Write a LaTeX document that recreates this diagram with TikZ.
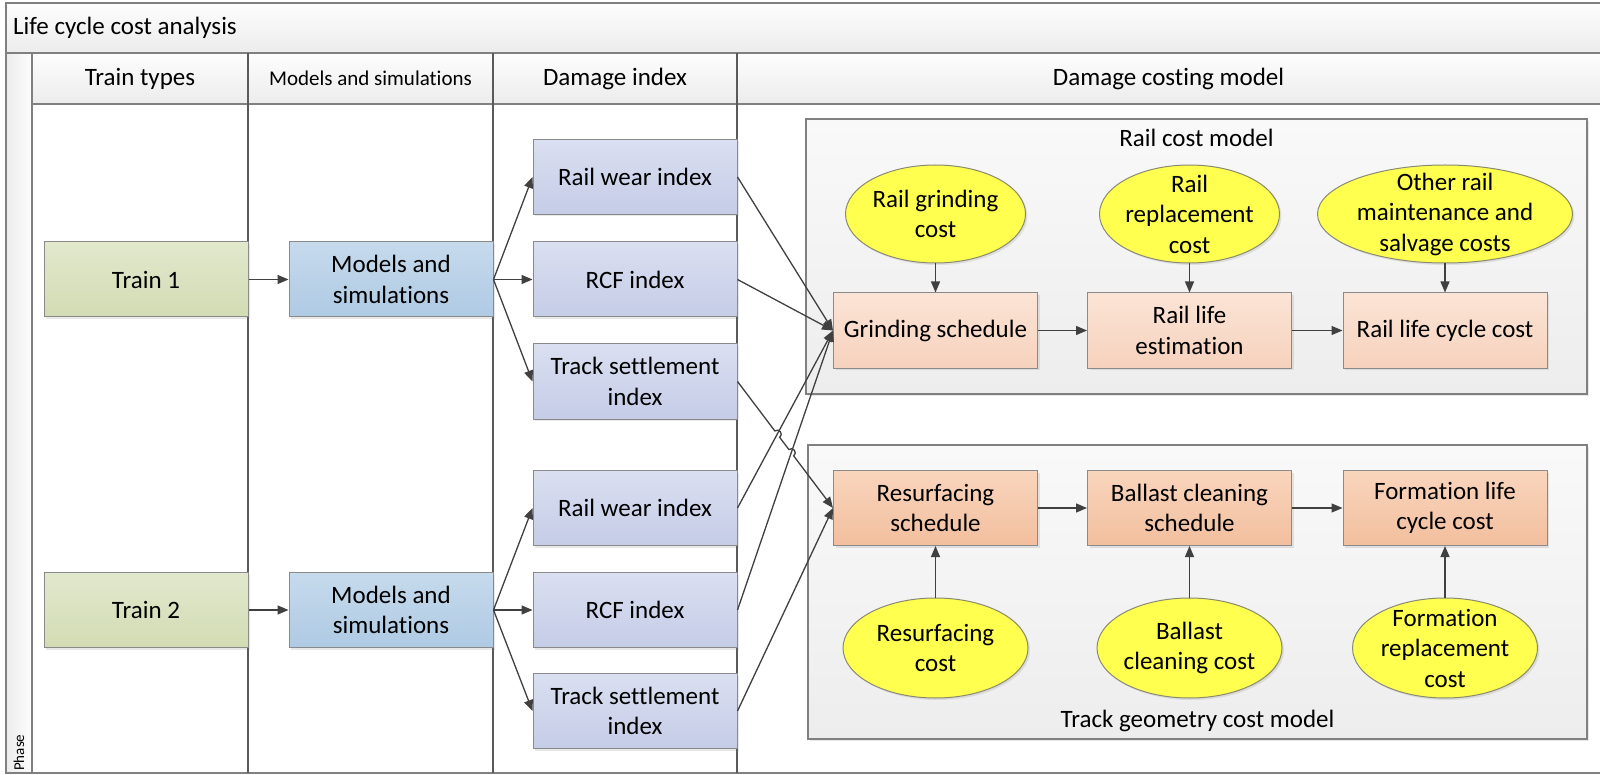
\documentclass[tikz,border=0pt]{standalone}
\usepackage{fontspec}
\setmainfont{Carlito}[Ligatures={NoCommon}]
\usetikzlibrary{arrows.meta,shapes.geometric,calc,intersections,shadows}
\definecolor{linec}{HTML}{404040}
\definecolor{framec}{HTML}{808080}
\definecolor{colc}{HTML}{5A5A5A}
\definecolor{boxborder}{HTML}{8A8A8A}
\definecolor{bandtop}{HTML}{FDFDFD}
\definecolor{bandbot}{HTML}{ECECEC}
\definecolor{traintop}{HTML}{E1E8CD}
\definecolor{trainbot}{HTML}{D2DCB3}
\definecolor{modtop}{HTML}{C6DAEC}
\definecolor{modbot}{HTML}{AECAE3}
\definecolor{dmgtop}{HTML}{DADFF1}
\definecolor{dmgbot}{HTML}{C5CCE6}
\definecolor{railtop}{HTML}{FBE4D6}
\definecolor{railbot}{HTML}{F6D2BD}
\definecolor{tracktop}{HTML}{F9D5BD}
\definecolor{trackbot}{HTML}{F2BF9E}
\definecolor{ellfill}{HTML}{FFFF4F}
\definecolor{ellborder}{HTML}{8A8A70}
\definecolor{conttop}{HTML}{F9F9F9}
\definecolor{contbot}{HTML}{EDEDED}
\begin{document}
\begin{tikzpicture}[x=1pt,y=-1pt,
  every node/.style={font=\fontsize{25}{30.5}\selectfont, text=black},
  shad/.style={drop shadow={shadow xshift=2pt,shadow yshift=-2pt,opacity=0.18}},
  basebox/.style={rectangle, draw=boxborder, line width=1pt, minimum width=204pt,
    minimum height=75pt, inner sep=0pt, align=center, shad},
  trainbox/.style={basebox, top color=traintop, bottom color=trainbot},
  modbox/.style={basebox, top color=modtop, bottom color=modbot},
  dmgbox/.style={basebox, top color=dmgtop, bottom color=dmgbot},
  railbox/.style={basebox, top color=railtop, bottom color=railbot},
  trackbox/.style={basebox, top color=tracktop, bottom color=trackbot},
  ell/.style={ellipse, draw=ellborder, line width=1pt, fill=ellfill, inner sep=0pt, shad},
  etext/.style={align=center, inner sep=0pt},
  container/.style={rectangle, draw=framec, line width=1.5pt, top color=conttop,
    bottom color=contbot, inner sep=0pt, shad},
  frameline/.style={draw=framec, line width=2pt},
  colline/.style={draw=colc, line width=1.5pt},
  arr/.style={draw=linec, line width=1.3pt, -{Triangle[length=11pt,width=9pt]}}
]
\useasboundingbox (0,0) rectangle (1600,775);
\fill[white] (0,0) rectangle (1600,775);
% bands
\shade[top color=bandtop,bottom color=bandbot] (6,3) rectangle (1600,53);
\shade[top color=bandtop,bottom color=bandbot] (32,53) rectangle (1600,104);
\shade[left color=bandbot,right color=bandtop] (6,53) rectangle (32,773);
\draw[frameline] (1600,3) -- (6,3) -- (6,773) -- (1600,773);
\draw[frameline] (6,53) -- (1600,53);
\draw[frameline] (32,104) -- (1600,104);
\draw[frameline] (32,53) -- (32,773);
\draw[colline] (248,53) -- (248,773);
\draw[colline] (493,53) -- (493,773);
\draw[colline] (737,53) -- (737,773);
% titles
\node[anchor=west, inner sep=0pt] (title) at (13,28) {Life cycle cost analysis};
\node[rotate=90, anchor=west, inner sep=0pt, font=\fontsize{15}{17}\selectfont] (phase) at (19,771) {Phase};
\node (hTrain) at (140,78.5) {Train types};
\node[font=\fontsize{21}{25}\selectfont] (hModels) at (370.5,78.5) {Models and simulations};
\node (hDamage) at (615,78.5) {Damage index};
\node (hCost) at (1168.5,78.5) {Damage costing model};
% containers
\node[container, minimum width=781pt, minimum height=275pt] (railmodel) at (1196.5,256.5) {};
\node[container, minimum width=779pt, minimum height=294pt] (trackmodel) at (1197.5,592) {};
\node (railmodellabel) at (1196.5,138) {Rail cost model};
\node (trackmodellabel) at (1197.5,721) {Track geometry cost model};
% train / models
\node[trainbox] (t1) at (146,279.5) {Train 1};
\node[trainbox] (t2) at (146,610) {Train 2};
\node[modbox] (m1) at (391,279.5) {Models and\\simulations};
\node[modbox] (m2) at (391,610) {Models and\\simulations};
% damage indices
\node[dmgbox] (rw1) at (635,177) {Rail wear index};
\node[dmgbox] (rcf1) at (635,279.5) {RCF index};
\node[dmgbox] (ts1) at (635,381.5) {Track settlement\\index};
\node[dmgbox] (rw2) at (635,508) {Rail wear index};
\node[dmgbox] (rcf2) at (635,610) {RCF index};
\node[dmgbox] (ts2) at (635,711) {Track settlement\\index};
% rail cost model
\node[railbox] (gr) at (935.5,330.5) {Grinding schedule};
\node[railbox] (rle) at (1189.5,330.5) {Rail life\\estimation};
\node[railbox] (rlcc) at (1445,330.5) {Rail life cycle cost};
\node[ell, minimum width=180pt, minimum height=98pt] (e1) at (935.5,214) {};
\node[etext] (e1t) at (e1.center) {Rail grinding\\cost};
\node[ell, minimum width=180pt, minimum height=98pt] (e2) at (1189.5,214) {};
\node[etext] (e2t) at (e2.center) {Rail\\replacement\\cost};
\node[ell, minimum width=255pt, minimum height=98pt] (e3) at (1445,214) {};
\node[etext] (e3t) at (e3.center) {Other rail\\maintenance and\\salvage costs};
% track geometry cost model
\node[trackbox] (rs) at (935.5,508) {Resurfacing\\schedule};
\node[trackbox] (bcs) at (1189.5,508) {Ballast cleaning\\schedule};
\node[trackbox] (flcc) at (1445,508) {Formation life\\cycle cost};
\node[ell, minimum width=185pt, minimum height=100pt] (e4) at (935.5,648) {};
\node[etext] (e4t) at (e4.center) {Resurfacing\\cost};
\node[ell, minimum width=185pt, minimum height=100pt] (e5) at (1189.5,648) {};
\node[etext] (e5t) at (e5.center) {Ballast\\cleaning cost};
\node[ell, minimum width=185pt, minimum height=100pt] (e6) at (1445,648) {};
\node[etext] (e6t) at (e6.center) {Formation\\replacement\\cost};
% connectors
\draw[arr] (t1.east) -- (m1.west);
\draw[arr] (t2.east) -- (m2.west);
\draw[arr] (m1.east) -- (rw1.west);
\draw[arr] (m1.east) -- (rcf1.west);
\draw[arr] (m1.east) -- (ts1.west);
\draw[arr] (m2.east) -- (rw2.west);
\draw[arr] (m2.east) -- (rcf2.west);
\draw[arr] (m2.east) -- (ts2.west);
\draw[arr] (rw1.east) -- (gr.west);
\draw[arr] (rcf1.east) -- (gr.west);
\draw[arr] (rw2.east) -- (gr.west);
\draw[arr] (rcf2.east) -- (gr.west);
\draw[arr] (ts2.east) -- (rs.west);
\path[name path=pA] (rw2.east) -- (gr.west);
\path[name path=pB] (rcf2.east) -- (gr.west);
\path[name path=pC] (ts1.east) -- (rs.west);
\path[name intersections={of=pA and pC, by={xa}}];
\path[name intersections={of=pB and pC, by={xb}}];
\coordinate (a1) at ($(xa)!4pt!(ts1.east)$);
\coordinate (b1) at ($(xa)!4pt!(rs.west)$);
\coordinate (a2) at ($(xb)!4pt!(ts1.east)$);
\coordinate (b2) at ($(xb)!4pt!(rs.west)$);
\draw[arr] (ts1.east) -- (a1) .. controls ($(a1)!5.3pt!90:(b1)$) and ($(b1)!5.3pt!-90:(a1)$) .. (b1)
  -- (a2) .. controls ($(a2)!5.3pt!90:(b2)$) and ($(b2)!5.3pt!-90:(a2)$) .. (b2) -- (rs.west);
\draw[arr] (gr) -- (rle);
\draw[arr] (rle) -- (rlcc);
\draw[arr] (rs) -- (bcs);
\draw[arr] (bcs) -- (flcc);
\draw[arr] (e1) -- (gr);
\draw[arr] (e2) -- (rle);
\draw[arr] (e3) -- (rlcc);
\draw[arr] (e4) -- (rs);
\draw[arr] (e5) -- (bcs);
\draw[arr] (e6) -- (flcc);
\end{tikzpicture}
\end{document}
